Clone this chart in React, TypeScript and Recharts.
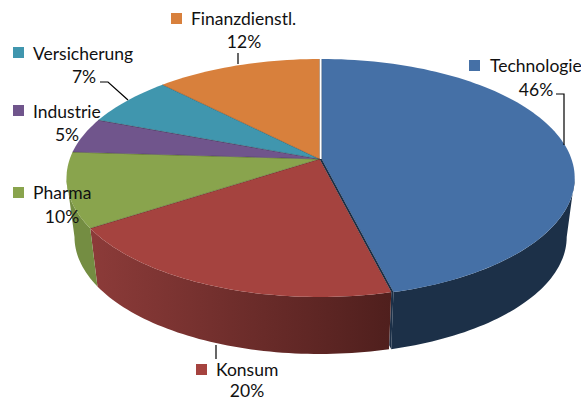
import { PieChart, Pie } from "recharts";

const CATEGORIES = ["Technologie", "Konsum", "Pharma", "Industrie", "Versicherung", "Finanzdienstl."];
const SHARES = [46, 20, 10, 5, 7, 12];
const TOP_COLORS = ["#4570A6", "#A5433F", "#89A44D", "#70558C", "#4096AE", "#D8803C"];
const SIDE_LEFT = ["#1C3048", "#8C3B39", "#748D42", "#5A4470", "#33788B", "#AD6630"];
const SIDE_RIGHT = ["#1C3048", "#4F1F1D", "#6C843D", "#5A4470", "#33788B", "#AD6630"];

const data = CATEGORIES.map((name, i) => ({ name, value: SHARES[i] }));

// where each label goes: square, name, percent, leader line
const LABELS = [
  { sq: [469, 60], text: [490, 72], pct: [536, 96], line: "M556 94H564V145" },
  { sq: [196, 364], text: [216, 376], pct: [247, 397], line: "M216 345V359" },
  { sq: [13, 187], text: [33, 199], pct: [62, 223], line: "" },
  { sq: [13, 105], text: [33, 118], pct: [67, 141], line: "" },
  { sq: [13, 47], text: [33, 60], pct: [84, 83], line: "M100 82H108L128 100" },
  { sq: [171, 13], text: [191, 25], pct: [244, 48], line: "M238 53V64" },
];

const CX = 319.5;
const CY = 159;
const RX = 253;
const RY = 119;
const CENTER_DROP = 19; // perspective: rim ellipse centre sits below the apex
const BOTTOM_DROP = 78;
const BOTTOM_RX = 245;
const BOTTOM_RY = 117;
const FORESHORTEN_FRONT = 2.1;
const FORESHORTEN_BACK = 2.25;
const EXPLODE = 2.2; // first slice is pulled out a little

const rad = (d: number) => (d * Math.PI) / 180;

// ellipse parameter (deg, clockwise from top) where a pie angle hits the rim
function rimParam(theta: number) {
  const back = Math.cos(rad(theta)) > 0;
  const dx = (back ? FORESHORTEN_BACK : FORESHORTEN_FRONT) * Math.sin(rad(theta));
  const dy = -Math.cos(rad(theta));
  const a = (dx * dx) / (RX * RX) + (dy * dy) / (RY * RY);
  const b = (-2 * dy * CENTER_DROP) / (RY * RY);
  const c = (CENTER_DROP * CENTER_DROP) / (RY * RY) - 1;
  const s = (-b + Math.sqrt(b * b - 4 * a * c)) / (2 * a);
  const x = s * dx;
  const y = s * dy - CENTER_DROP;
  const phi = (Math.atan2(x / RX, -y / RY) * 180) / Math.PI;
  return phi < 0 ? phi + 360 : phi;
}

function arcPoints(from: number, to: number, ox: number, oy: number, rx: number, ry: number) {
  const n = Math.max(2, Math.ceil(Math.abs(to - from) / 1.5));
  const pts: string[] = [];
  for (let i = 0; i <= n; i++) {
    const p = from + ((to - from) * i) / n;
    pts.push(`${(ox + rx * Math.sin(rad(p))).toFixed(2)} ${(oy - ry * Math.cos(rad(p))).toFixed(2)}`);
  }
  return pts;
}

function Slice(props: any) {
  const i = CATEGORIES.indexOf(props.name);
  const off = i === 0 ? EXPLODE : 0;
  const ax = props.cx + off;
  const ay = props.cy;
  const t1 = 90 - props.startAngle;
  const t2 = 90 - props.endAngle;
  const p1 = rimParam(t1);
  let p2 = rimParam(t2 >= 360 ? 359.999 : t2);
  if (p2 <= p1) p2 += 360;

  const top = arcPoints(p1, p2, ax, ay + CENTER_DROP, RX, RY);
  const topPath = `M${ax} ${ay}L${top.join("L")}Z`;
  const edges = `M${top[0]}L${ax} ${ay}L${top[top.length - 1]}`;

  // only the front half of the rim has a visible wall
  const s1 = Math.max(p1, 90);
  const s2 = Math.min(p2, 270);
  let side = "";
  if (s2 > s1) {
    const upper = arcPoints(s1, s2, ax, ay + CENTER_DROP, RX, RY);
    const lower = arcPoints(s2, s1, ax, ay + BOTTOM_DROP, BOTTOM_RX, BOTTOM_RY);
    side = `M${upper.join("L")}L${lower.join("L")}Z`;
  }

  // cut face of the pulled-out slice, seen in the gap beside the next one
  let cut = "";
  if (i === 0) {
    const baseRim = arcPoints(p2, p2, props.cx, ay + CENTER_DROP, RX, RY)[0];
    const bottom = arcPoints(p2, p2, ax, ay + BOTTOM_DROP, BOTTOM_RX, BOTTOM_RY)[0];
    const [bx, by] = bottom.split(" ").map(Number);
    cut =
      `M${ax} ${ay}L${top[top.length - 1]}L${bottom}L${bx - 2} ${by - 4}` +
      `L${baseRim}L${props.cx} ${ay}Z`;
  }

  return (
    <g>
      <defs>
        <linearGradient id={`side${i}`} gradientUnits="userSpaceOnUse" x1={92} y1={0} x2={392} y2={0}>
          <stop offset="0" stopColor={SIDE_LEFT[i]} />
          <stop offset="1" stopColor={SIDE_RIGHT[i]} />
        </linearGradient>
      </defs>
      {side && <path d={side} fill={`url(#side${i})`} />}
      {cut && <path d={cut} fill="#1C3048" />}
      <path d={topPath} fill={TOP_COLORS[i]} />
      <path d={edges} fill="none" stroke="#000" strokeOpacity={0.3} strokeWidth={0.6} />
    </g>
  );
}

function SliceLabel(props: any) {
  const i = CATEGORIES.indexOf(props.name);
  const l = LABELS[i];
  return (
    <g fontFamily="Lato, sans-serif" fontSize={17.5} fill="#111">
      {l.line && <path d={l.line} fill="none" stroke="#000" strokeWidth={1.2} />}
      <rect x={l.sq[0]} y={l.sq[1]} width={11} height={11} fill={TOP_COLORS[i]} />
      <text x={l.text[0]} y={l.text[1]}>{props.name}</text>
      <text x={l.pct[0]} y={l.pct[1]} textAnchor="middle">{`${props.value}%`}</text>
    </g>
  );
}

export default function App() {
  return (
    <div style={{ position: "absolute", left: 0, top: 0, width: 581, height: 401 }}>
      <PieChart width={581} height={401} margin={{ top: 0, right: 0, bottom: 0, left: 0 }}>
        <Pie
          data={data}
          dataKey="value"
          nameKey="name"
          cx={CX}
          cy={CY}
          outerRadius={RX}
          startAngle={90}
          endAngle={-270}
          stroke="none"
          shape={Slice}
          label={SliceLabel}
          labelLine={false}
          isAnimationActive={false}
        />
      </PieChart>
    </div>
  );
}
